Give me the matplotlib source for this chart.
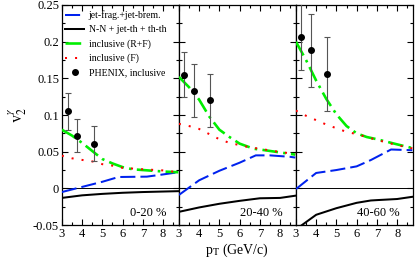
import matplotlib
matplotlib.use('Agg')
from matplotlib import pyplot as plt
from matplotlib.lines import Line2D
from matplotlib.ticker import MultipleLocator

plt.rcParams['font.family'] = ['Liberation Serif', 'DejaVu Serif']
plt.rcParams['mathtext.fontset'] = 'stix'

# --- DATA ---
centralities = ['0-20 %', '20-40 %', '40-60 %']

# jet-frag.+jet-brem. (blue dashed)
blue_x = [[3, 4, 5, 5.8, 7.2, 8, 8.75],
          [3, 4, 5, 6, 6.8, 7.5, 8.5, 8.75],
          [3, 4, 5, 6, 6.7, 7.7, 8.75]]
blue_y = [[-0.005, 0.002, 0.009, 0.0155, 0.016, 0.019, 0.022],
          [-0.009, 0.011, 0.024, 0.035, 0.045, 0.045, 0.043, 0.042],
          [-0.001, 0.021, 0.025, 0.030, 0.0386, 0.053, 0.052]]

# N-N + jet-th + th-th (black solid)
black_x = [[3, 4, 5, 6, 7, 8, 8.75],
           [3, 4, 5, 6, 7, 8, 8.75],
           [3, 3.2, 4, 5, 6, 6.7, 7, 8, 8.75]]
black_y = [[-0.013, -0.0095, -0.0075, -0.006, -0.005, -0.0043, -0.0038],
           [-0.032, -0.026, -0.021, -0.017, -0.0135, -0.013, -0.010],
           [-0.058, -0.052, -0.036, -0.027, -0.0197, -0.0165, -0.016, -0.0145, -0.0115]]

# inclusive (R+F) (green dash-dot)
green_x = [[3, 3.5, 4, 4.5, 5, 5.5, 6, 6.5, 7, 8, 8.75],
           [3, 3.5, 4, 4.5, 5, 5.5, 6, 6.7, 7, 8, 8.75],
           [3, 3.5, 4, 4.5, 5, 5.5, 6, 6.5, 7, 8, 8.75]]
green_y = [[0.080, 0.072, 0.062, 0.051, 0.040, 0.034, 0.029, 0.026, 0.025, 0.023, 0.022],
           [0.152, 0.138, 0.121, 0.098, 0.080, 0.070, 0.061, 0.054, 0.053, 0.049, 0.046],
           [0.200, 0.175, 0.147, 0.122, 0.101, 0.085, 0.075, 0.070, 0.067, 0.060, 0.055]]

# inclusive (F) (red dotted)
red_x = [[3, 3.5, 4, 4.5, 5, 5.5, 6, 6.5, 7, 8, 8.75],
         [3, 3.5, 4, 4.5, 5, 5.5, 6, 6.5, 7, 8, 8.75],
         [3, 3.5, 4, 4.5, 5, 5.5, 6, 6.5, 7, 8, 8.75]]
red_y = [[0.0445, 0.041, 0.0388, 0.0368, 0.033, 0.031, 0.028, 0.027, 0.026, 0.0245, 0.022],
         [0.088, 0.085, 0.081, 0.074, 0.067, 0.062, 0.059, 0.056, 0.054, 0.0495, 0.047],
         [0.106, 0.099, 0.093, 0.087, 0.082, 0.077, 0.074, 0.070, 0.066, 0.059, 0.0545]]

# PHENIX, inclusive
phenix_x = [[3.28, 3.77, 4.58],
            [3.24, 3.75, 4.55],
            [3.25, 3.76, 4.55]]
phenix_y = [[0.105, 0.072, 0.061],
            [0.155, 0.133, 0.120],
            [0.207, 0.188, 0.156]]
phenix_err = [[0.025, 0.022, 0.024],
              [0.031, 0.036, 0.036],
              [0.046, 0.050, 0.051]]

# --- STYLE ---
LW = 1.45
BLUE_LS = (0, (7.5, 2.5))
GREEN_LS = (0, (6, 2, 1, 2))
RED_LS = (0, (1, 4))

fig, axes = plt.subplots(1, 3, figsize=(4.15, 2.62), dpi=100, sharey=True)
fig.subplots_adjust(left=0.149, right=0.995, top=0.981, bottom=0.141, wspace=0)

for i, ax in enumerate(axes):
    ax.axhline(0, color='black', lw=0.7, zorder=1)
    ax.plot(black_x[i], black_y[i], color='black', lw=LW, zorder=3)
    ax.plot(blue_x[i], blue_y[i], color='#0022ee', lw=LW, ls=BLUE_LS, zorder=3)
    ax.plot(red_x[i], red_y[i], color='#ff0000', lw=LW, ls=RED_LS, zorder=4)
    ax.plot(green_x[i], green_y[i], color='#00ee00', lw=LW * 1.3, ls=GREEN_LS, zorder=3)
    ax.errorbar(phenix_x[i], phenix_y[i], yerr=phenix_err[i], fmt='o', color='black',
                ms=4, ecolor='#555555', elinewidth=0.8, capsize=2.5, capthick=0.8, zorder=5)

    ax.set_xlim(3, 8.78)
    ax.set_ylim(-0.05, 0.25)
    ax.xaxis.set_major_locator(MultipleLocator(1))
    ax.xaxis.set_minor_locator(MultipleLocator(0.5))
    ax.yaxis.set_major_locator(MultipleLocator(0.05))
    ax.yaxis.set_minor_locator(MultipleLocator(0.025))
    ax.tick_params(which='both', direction='in', top=True, right=True, labelsize=9, pad=2)
    ax.tick_params(which='major', length=4, width=0.8)
    ax.tick_params(which='minor', length=2, width=0.8)
    ax.set_xticks([3, 4, 5, 6, 7, 8])
    for sp in ax.spines.values():
        sp.set_linewidth(0.9)
    ax.text(0.89, 0.055, centralities[i], transform=ax.transAxes, ha='right', va='center', fontsize=9)

axes[0].set_yticks([-0.05, 0, 0.05, 0.1, 0.15, 0.2, 0.25])
axes[0].set_yticklabels(['-0.05', '0', '0.05', '0.1', '0.15', '0.2', '0.25'])
axes[0].set_ylabel(r'$\mathrm{v}_2^{\gamma}$', fontsize=12, labelpad=3)
axes[1].set_xlabel(r'p$_\mathrm{T}$ (GeV/c)', fontsize=10, labelpad=1)

handles = [
    Line2D([], [], color='#0022ee', lw=LW, ls=BLUE_LS),
    Line2D([], [], color='black', lw=LW),
    Line2D([], [], color='#00ee00', lw=LW * 1.3, ls=GREEN_LS),
    Line2D([], [], color='#ff0000', lw=LW, ls=RED_LS),
    Line2D([], [], color='black', marker='o', ms=4, ls='none'),
]
labels = ['jet-frag.+jet-brem.', 'N-N + jet-th + th-th', 'inclusive (R+F)',
          'inclusive (F)', 'PHENIX, inclusive']
axes[0].legend(handles, labels, loc='upper left', bbox_to_anchor=(0.01, 0.985), frameon=False,
               fontsize=7, handlelength=2.0, handletextpad=0.45, labelspacing=0.52,
               borderpad=0.2, borderaxespad=0.0)

fig.savefig('out.png', dpi=100)
